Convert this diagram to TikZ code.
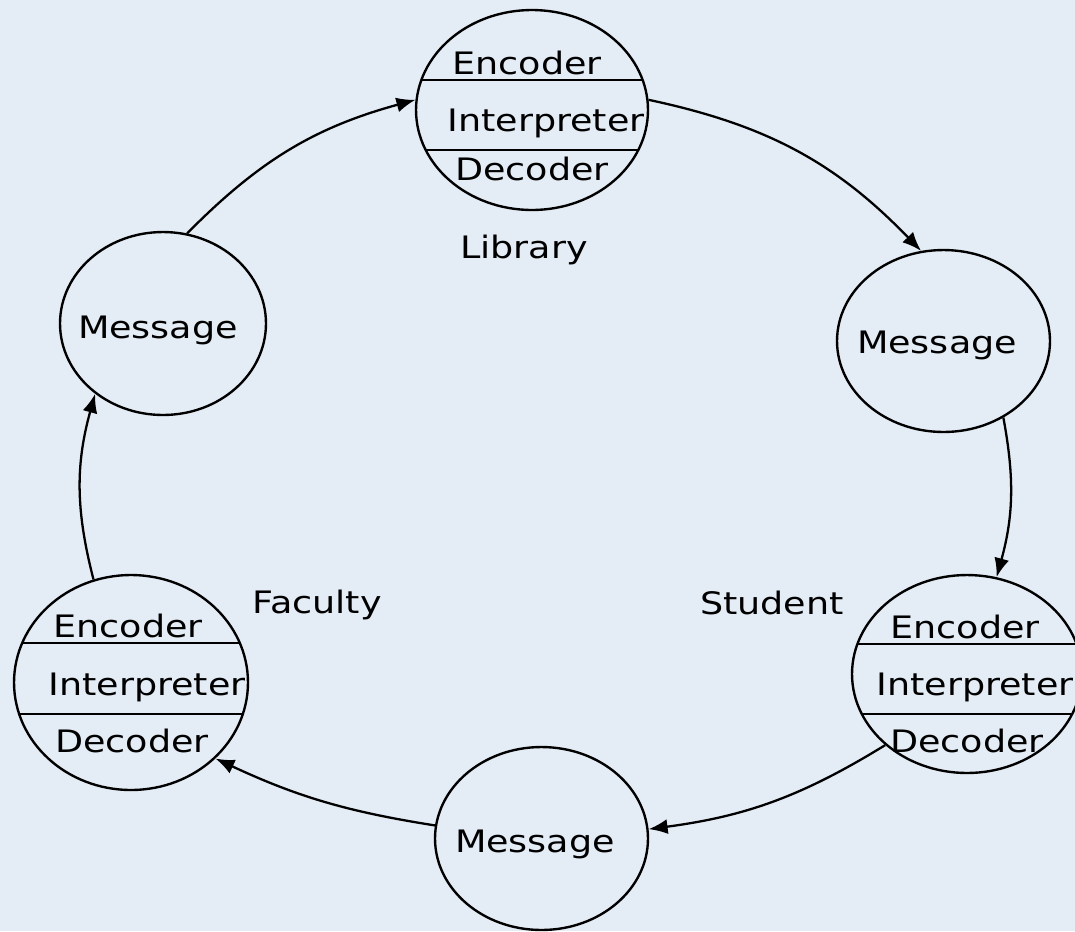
\documentclass[tikz,border=0pt]{standalone}
\usepackage{fontspec}
\setmainfont{DejaVu Sans}
\usetikzlibrary{shapes.geometric,arrows.meta}
\definecolor{bg}{RGB}{228,236,245}
\newcommand{\wtxt}[1]{\scalebox{1.18}[1]{#1}}
\newcommand{\chtop}{0cm}
\newcommand{\chbot}{0cm}
\tikzset{
  ring/.style={ellipse, draw, line width=1.35pt, inner sep=0pt},
  msg/.style={ring, minimum width=4.26cm, minimum height=3.64cm},
  chords/.style={path picture={
    \draw[line width=1.6pt] ([yshift=\chtop]path picture bounding box.west) -- ([yshift=\chtop]path picture bounding box.east);
    \draw[line width=1.6pt] ([yshift=\chbot]path picture bounding box.west) -- ([yshift=\chbot]path picture bounding box.east);}},
  tri/.code 2 args={\def\chtop{#1}\def\chbot{#2}\tikzset{chords}},
  word/.style={anchor=base, inner sep=0pt, font=\fontsize{17.6}{20}\selectfont},
  flow/.style={line width=1.3pt, -{Latex[length=0.38cm,width=0.3cm]}}
}
\begin{document}
\begin{tikzpicture}[x=0.02cm, y=-0.02cm]
\useasboundingbox (0,0) rectangle (1075,931);
\fill[bg] (0,0) rectangle (1075,931);
\node[ring, tri={0.6cm}{-0.8cm}, minimum width=4.64cm, minimum height=4cm] (lib) at (532,110) {};
\node[ring, tri={0.79cm}{-0.63cm}, minimum width=4.68cm, minimum height=4.3cm] (fac) at (131,682.5) {};
\node[ring, tri={0.6cm}{-0.8cm}, minimum width=4.6cm, minimum height=3.96cm] (stu) at (967,674) {};
\node[msg, minimum width=4.12cm, minimum height=3.66cm] (msgL) at (163,323.5) {};
\node[msg] (msgR) at (943.5,341) {};
\node[msg, minimum height=3.66cm] (msgB) at (541.5,838.5) {};
% texts
\node[word] (lib-enc) at (527,74) {\wtxt{Encoder}};
\node[word] (lib-int) at (546,131) {\wtxt{Interpreter}};
\node[word] (lib-dec) at (532,180) {\wtxt{Decoder}};
\node[word] (lib-name) at (524,258) {\wtxt{Library}};
\node[word] (fac-enc) at (128,637) {\wtxt{Encoder}};
\node[word] (fac-int) at (147,695) {\wtxt{Interpreter}};
\node[word] (fac-dec) at (132,752) {\wtxt{Decoder}};
\node[word] (fac-name) at (317,613) {\wtxt{Faculty}};
\node[word] (stu-enc) at (965,638) {\wtxt{Encoder}};
\node[word] (stu-int) at (975,695) {\wtxt{Interpreter}};
\node[word] (stu-dec) at (967,752) {\wtxt{Decoder}};
\node[word] (stu-name) at (772,614) {\wtxt{Student}};
\node[word] (msgL-txt) at (158,338) {\wtxt{Message}};
\node[word] (msgR-txt) at (937,353) {\wtxt{Message}};
\node[word] (msgB-txt) at (535,852) {\wtxt{Message}};
% flow
\draw[flow] (msgL.75) to[bend left=15] (lib.175);
\draw[flow] (lib.5) to[bend left=17] (msgR.104);
\draw[flow] (msgR.-52) to[bend left=13] (stu.73);
\draw[flow] (stu.221) to[bend left=12] (msgB.5);
\draw[flow] (msgB.173) to[bend left=8] (fac.-42);
\draw[flow] (fac.110) to[bend left=15] (msgL.226);
\end{tikzpicture}
\end{document}
